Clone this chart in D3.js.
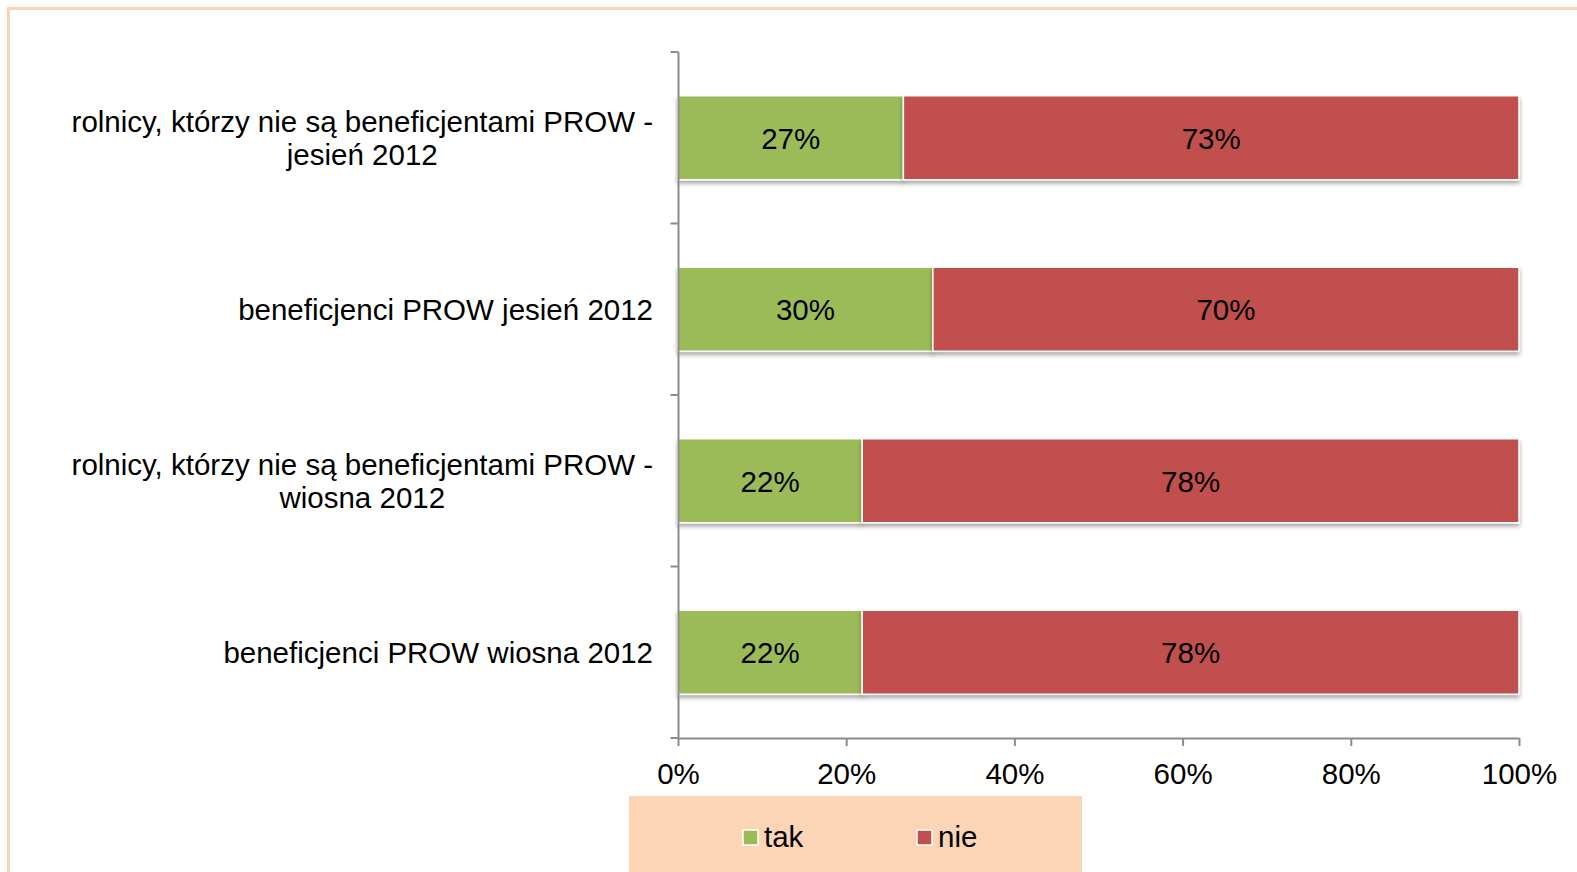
<!DOCTYPE html>
<html><head><meta charset="utf-8">
<script src="https://cdn.jsdelivr.net/npm/d3@7"></script>
<style>
html,body{margin:0;padding:0;background:#fff;}
svg{display:block;font-family:"Liberation Sans",Arial,sans-serif;}
</style></head>
<body>
<svg id="chart" width="1577" height="872"></svg>
<script>
const categories = [
  ["rolnicy, którzy nie są beneficjentami PROW -", "jesień 2012"],
  ["beneficjenci PROW jesień 2012"],
  ["rolnicy, którzy nie są beneficjentami PROW -", "wiosna 2012"],
  ["beneficjenci PROW wiosna 2012"]
];
const takValues = [26.8, 30.3, 21.9, 21.9];
const nieValues = [73.2, 69.7, 78.1, 78.1];
const seriesNames = ["tak", "nie"];
const seriesColors = ["#9BBB59", "#C0504D"];
const xTicks = [0, 20, 40, 60, 80, 100];

const FS = 29.5;
const svg = d3.select("#chart");
const defs = svg.append("defs");
const f = defs.append("filter").attr("id","shadow").attr("x","-5%").attr("y","-20%").attr("width","110%").attr("height","150%");
f.append("feDropShadow").attr("dx",0).attr("dy",3).attr("stdDeviation",2.2).attr("flood-color","#000").attr("flood-opacity",0.35);

// frame
const frameColor = "#FBD5B5";
svg.append("line").attr("x1",7).attr("x2",1577).attr("y1",8.5).attr("y2",8.5).attr("stroke",frameColor).attr("stroke-width",3);
svg.append("line").attr("x1",8.5).attr("x2",8.5).attr("y1",7).attr("y2",872).attr("stroke",frameColor).attr("stroke-width",3);

const x = d3.scaleLinear().domain([0,100]).range([678,1519]);
const idx = categories.map((d,i)=>i);
const y = d3.scaleBand().domain(idx).range([52,738]).padding(0);
const bw = y.bandwidth();
const barH = bw*0.49;

const stacks = idx.map(i => [
  {s:0, x0:0, x1:takValues[i], v:takValues[i], i},
  {s:1, x0:takValues[i], x1:takValues[i]+nieValues[i], v:nieValues[i], i}
]).flat();

const g = svg.append("g");
g.selectAll("rect.bar").data(stacks).join("rect").attr("class","bar")
  .attr("x", d=>x(d.x0)).attr("width", d=>x(d.x1)-x(d.x0))
  .attr("y", d=>y(d.i)+(bw-barH)/2).attr("height", barH)
  .attr("fill", d=>seriesColors[d.s]).attr("stroke","#fff").attr("stroke-width",1.5)
  .attr("filter","url(#shadow)");

g.selectAll("text.val").data(stacks).join("text").attr("class","val")
  .attr("x", d=>(x(d.x0)+x(d.x1))/2).attr("y", d=>y(d.i)+bw/2+11)
  .attr("text-anchor","middle").attr("font-size",FS).attr("fill","#000")
  .text(d=>Math.round(d.v)+"%");

// axes
const axisColor = "#8c8c8c";
const yAxis = svg.append("g").attr("transform","translate(678.5,0)");
yAxis.append("line").attr("y1",52).attr("y2",738).attr("stroke",axisColor).attr("stroke-width",2);
const bounds = idx.map(i=>y(i)).concat([y(idx.length-1)+bw]);
yAxis.selectAll("line.t").data(bounds).join("line").attr("class","t")
  .attr("x1",-8).attr("x2",0).attr("y1",d=>d).attr("y2",d=>d).attr("stroke",axisColor).attr("stroke-width",2);

const xAxis = svg.append("g").attr("transform","translate(0,738)").call(d3.axisBottom(x).tickValues(xTicks).tickSize(8).tickSizeOuter(0).tickFormat(d=>d+"%"));
xAxis.select(".domain").attr("stroke",axisColor).attr("stroke-width",2);
xAxis.selectAll(".tick line").attr("stroke",axisColor).attr("stroke-width",2);
xAxis.selectAll(".tick text").attr("font-size",FS).attr("fill","#000").attr("font-family","Liberation Sans, Arial, sans-serif").attr("dy",0).attr("y",45.5);

// category labels
const labels = svg.append("g");
idx.forEach(i=>{
  const lines = categories[i];
  const cy = y(i)+bw/2;
  const t = labels.append("text").attr("font-size",FS).attr("fill","#000").attr("text-anchor","middle");
  const lh = 33;
  const startY = cy + 10.5 - (lines.length-1)*lh/2;
  lines.forEach((ln,k)=>{
    t.append("tspan").attr("x",0).attr("y",startY+k*lh).text(ln);
  });
  const bb = t.node().getBBox();
  t.attr("transform",`translate(${653 - bb.width/2},0)`);
});

// legend
svg.append("rect").attr("x",629).attr("y",796).attr("width",453).attr("height",80).attr("fill","#FBD5B5");
const legendX = [743, 917];
const lg = svg.append("g");
seriesNames.forEach((n,k)=>{
  lg.append("rect").attr("x",legendX[k]).attr("y",830).attr("width",15).attr("height",15)
    .attr("fill",seriesColors[k]).attr("stroke","#fff").attr("stroke-width",1.5);
  lg.append("text").attr("x",legendX[k]+21).attr("y",847).attr("font-size",FS).attr("fill","#000").text(n);
});
</script>
</body></html>
